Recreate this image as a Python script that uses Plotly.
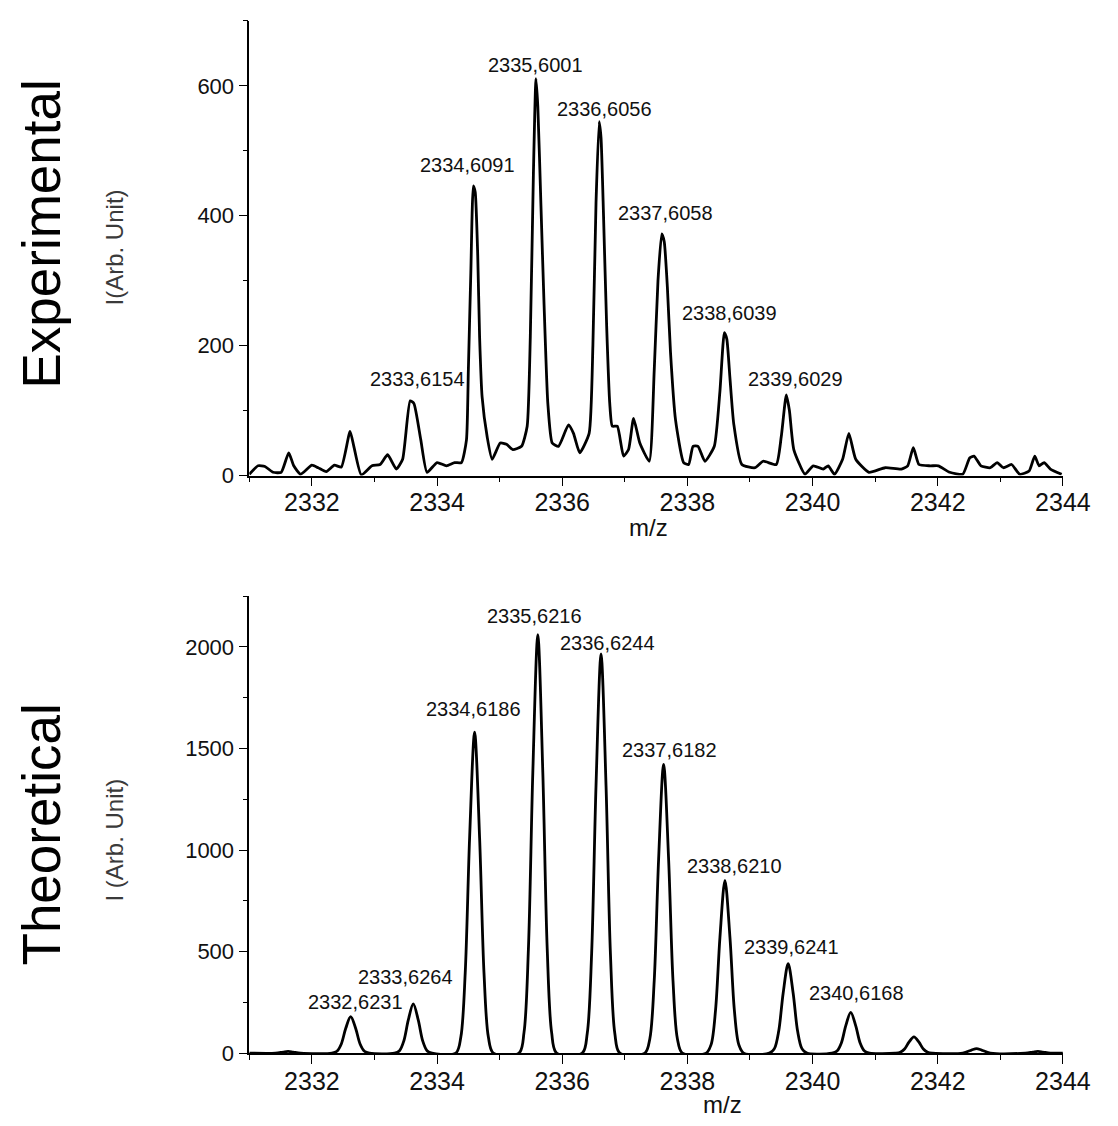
import plotly.graph_objects as go

# ---------------- data ----------------
# Experimental spectrum (m/z, intensity)
exp_mz = [2331.00, 2331.14, 2331.25, 2331.38, 2331.51, 2331.63, 2331.71, 2331.82,
          2332.00, 2332.10, 2332.23, 2332.36, 2332.47, 2332.61, 2332.67, 2332.79,
          2332.96, 2333.09, 2333.21, 2333.35, 2333.45, 2333.57, 2333.63, 2333.74,
          2333.84, 2334.00, 2334.15, 2334.28, 2334.39, 2334.47, 2334.50, 2334.54,
          2334.58, 2334.61, 2334.65, 2334.68, 2334.72, 2334.80, 2334.88, 2335.01,
          2335.11, 2335.21, 2335.35, 2335.44, 2335.49, 2335.54, 2335.58, 2335.61,
          2335.66, 2335.71, 2335.77, 2335.84, 2335.94, 2336.10, 2336.18, 2336.28,
          2336.43, 2336.49, 2336.54, 2336.59, 2336.62, 2336.66, 2336.71, 2336.76,
          2336.80, 2336.88, 2336.98, 2337.06, 2337.14, 2337.24, 2337.39, 2337.47,
          2337.53, 2337.59, 2337.63, 2337.68, 2337.73, 2337.81, 2337.94, 2338.02,
          2338.09, 2338.17, 2338.28, 2338.43, 2338.52, 2338.59, 2338.63, 2338.68,
          2338.74, 2338.87, 2339.08, 2339.21, 2339.42, 2339.50, 2339.58, 2339.63,
          2339.70, 2339.88, 2340.01, 2340.17, 2340.25, 2340.35, 2340.48, 2340.58,
          2340.69, 2340.90, 2341.16, 2341.42, 2341.52, 2341.61, 2341.70, 2341.88,
          2342.01, 2342.19, 2342.40, 2342.51, 2342.58, 2342.69, 2342.84, 2342.95,
          2343.05, 2343.18, 2343.31, 2343.46, 2343.55, 2343.62, 2343.70, 2343.80,
          2343.98]
exp_I = [2, 15, 14, 5, 5, 35, 15, 2,
         16, 12, 6, 16, 13, 68, 45, 1,
         15, 17, 32, 10, 25, 115, 111, 55,
         5, 20, 15, 20, 20, 55, 162, 314,
         446, 436, 339, 213, 121, 60, 25, 50,
         48, 40, 45, 76, 213, 467, 611, 568,
         416, 263, 111, 50, 45, 78, 65, 35,
         65, 200, 420, 545, 520, 400, 230, 110,
         76, 76, 30, 40, 88, 50, 22, 162,
         300, 372, 360, 290, 190, 86, 20, 17,
         45, 45, 22, 45, 130, 220, 210, 150,
         80, 17, 12, 22, 17, 60, 124, 100,
         40, 2, 15, 10, 15, 2, 25, 65,
         25, 5, 12, 10, 15, 43, 17, 15,
         15, 5, 2, 27, 30, 15, 12, 20,
         12, 17, 2, 7, 30, 15, 20, 10,
         2]

# Theoretical isotope pattern (m/z, intensity)
theo_mz = [2331.00,
           2331.42, 2331.54, 2331.62, 2331.70, 2331.82,
           2332.32, 2332.40, 2332.47, 2332.54, 2332.62, 2332.70, 2332.77, 2332.84, 2332.92,
           2333.32, 2333.40, 2333.47, 2333.54, 2333.62, 2333.70, 2333.77, 2333.84, 2333.92,
           2334.30, 2334.38, 2334.45, 2334.52, 2334.60, 2334.68, 2334.75, 2334.82, 2334.90,
           2335.31, 2335.39, 2335.46, 2335.53, 2335.61, 2335.69, 2335.76, 2335.83, 2335.91,
           2336.32, 2336.40, 2336.47, 2336.54, 2336.62, 2336.70, 2336.77, 2336.84, 2336.92,
           2337.32, 2337.40, 2337.47, 2337.54, 2337.62, 2337.70, 2337.77, 2337.84, 2337.92,
           2338.30, 2338.38, 2338.45, 2338.52, 2338.60, 2338.68, 2338.75, 2338.82, 2338.90,
           2339.31, 2339.39, 2339.46, 2339.53, 2339.61, 2339.69, 2339.76, 2339.83, 2339.91,
           2340.31, 2340.39, 2340.46, 2340.53, 2340.61, 2340.69, 2340.76, 2340.83, 2340.91,
           2341.32, 2341.40, 2341.47, 2341.54, 2341.62, 2341.70, 2341.77, 2341.84, 2341.92,
           2342.40, 2342.54, 2342.62, 2342.70, 2342.84,
           2343.40, 2343.52, 2343.60, 2343.68, 2343.80,
           2344.00]
theo_I = [0,
          0, 5, 8, 5, 0,
          0, 9, 45, 121, 180, 121, 45, 9, 0,
          0, 12, 61, 162, 242, 162, 61, 12, 0,
          0, 79, 395, 1059, 1580, 1059, 395, 79, 0,
          0, 103, 515, 1380, 2060, 1380, 515, 103, 0,
          0, 98, 491, 1317, 1965, 1317, 491, 98, 0,
          0, 71, 356, 953, 1422, 953, 356, 71, 0,
          0, 43, 213, 570, 850, 570, 213, 43, 0,
          0, 22, 110, 295, 440, 295, 110, 22, 0,
          0, 10, 50, 134, 200, 134, 50, 10, 0,
          0, 4, 20, 54, 80, 54, 20, 4, 0,
          0, 15, 22, 15, 0,
          0, 5, 8, 5, 0,
          0]

# Peak labels: text, m/z and intensity position of the label
exp_labels = ["2333,6154", "2334,6091", "2335,6001", "2336,6056",
              "2337,6058", "2338,6039", "2339,6029"]
exp_label_mz = [2333.685, 2334.49, 2335.576, 2336.68, 2337.654, 2338.665, 2339.72]
exp_label_I = [148, 478, 632, 564, 404, 250, 148]

theo_labels = ["2332,6231", "2333,6264", "2334,6186", "2335,6216", "2336,6244",
               "2337,6182", "2338,6210", "2339,6241", "2340,6168"]
theo_label_mz = [2332.689, 2333.498, 2334.59, 2335.553, 2336.728,
                 2337.716, 2338.75, 2339.66, 2340.70]
theo_label_I = [251, 377, 1696, 2151, 2021, 1491, 919, 523, 295]

x_ticks = [2332, 2334, 2336, 2338, 2340, 2342, 2344]
exp_y_ticks = [0, 200, 400, 600]
theo_y_ticks = [0, 500, 1000, 1500, 2000]

# ---------------- layout ----------------
W, H = 1118, 1126
FONT = "Liberation Sans, Arial, sans-serif"


def px(x):
    return x / W


def py(y):
    return 1 - y / H


fig = go.Figure()

fig.add_trace(go.Scatter(x=exp_mz, y=exp_I, mode="lines",
                         line=dict(color="black", width=2.8, shape="spline", smoothing=0.5),
                         xaxis="x", yaxis="y", showlegend=False))
fig.add_trace(go.Scatter(x=theo_mz, y=theo_I, mode="lines",
                         line=dict(color="black", width=2.8, shape="spline", smoothing=0.9),
                         xaxis="x2", yaxis="y2", showlegend=False))

axis_common = dict(showline=True, linecolor="black", linewidth=1.6,
                   ticks="outside", tickcolor="black", tickwidth=1.4,
                   showgrid=False, zeroline=False)
minor_x = dict(dtick=1, ticklen=5, ticks="outside", tickcolor="black", tickwidth=1.4)

xdom = [px(247.5), px(1082)]
fig.update_layout(
    width=W, height=H,
    margin=dict(l=0, r=0, t=0, b=0),
    paper_bgcolor="white", plot_bgcolor="white",
    font=dict(family=FONT, color="black"),
    xaxis=dict(domain=xdom, range=[2331, 2344], anchor="y",
               tickvals=x_ticks, ticklen=9, minor=minor_x, ticklabelstandoff=-5,
               tickfont=dict(size=25, family=FONT, color="#111"), **axis_common),
    yaxis=dict(domain=[py(473), py(13)], range=[0, 700], anchor="x",
               tickvals=exp_y_ticks, ticklen=9,
               minor=dict(dtick=100, ticklen=5, ticks="outside", tickcolor="black", tickwidth=1.4),
               tickfont=dict(size=22, family=FONT, color="#111"), **axis_common),
    xaxis2=dict(domain=xdom, range=[2331, 2344], anchor="y2",
                tickvals=x_ticks, ticklen=9, minor=minor_x, ticklabelstandoff=-4,
                tickfont=dict(size=25, family=FONT, color="#111"), **axis_common),
    yaxis2=dict(domain=[py(1057.3), py(595)], range=[0, 2250], anchor="x2",
                tickvals=theo_y_ticks, ticklen=9,
                minor=dict(dtick=250, ticklen=5, ticks="outside", tickcolor="black", tickwidth=1.4),
                tickfont=dict(size=22, family=FONT, color="#111"), **axis_common),
)

annotations = []
for t, xm, yi in zip(exp_labels, exp_label_mz, exp_label_I):
    annotations.append(dict(text=t, x=xm, y=yi, xref="x", yref="y", showarrow=False,
                            xanchor="center", yanchor="middle",
                            font=dict(size=20, family=FONT, color="#111")))
for t, xm, yi in zip(theo_labels, theo_label_mz, theo_label_I):
    annotations.append(dict(text=t, x=xm, y=yi, xref="x2", yref="y2", showarrow=False,
                            xanchor="center", yanchor="middle",
                            font=dict(size=20, family=FONT, color="#111")))

# axis / panel titles
annotations += [
    dict(text="m/z", x=px(657), y=py(526), xref="paper", yref="paper", showarrow=False,
         xanchor="center", yanchor="middle", font=dict(size=24, family=FONT, color="#111")),
    dict(text="m/z", x=px(733), y=py(1109), xref="paper", yref="paper", showarrow=False,
         xanchor="center", yanchor="middle", font=dict(size=24, family=FONT, color="#111")),
    dict(text="I(Arb. Unit)", x=px(109), y=py(242), xref="paper", yref="paper", showarrow=False,
         textangle=-90, xanchor="center", yanchor="middle",
         font=dict(size=24, family=FONT, color="#3a3a3a")),
    dict(text="I (Arb. Unit)", x=px(109), y=py(842), xref="paper", yref="paper", showarrow=False,
         textangle=-90, xanchor="center", yanchor="middle",
         font=dict(size=24, family=FONT, color="#3a3a3a")),
    dict(text="Experimental", x=px(34), y=py(229), xref="paper", yref="paper", showarrow=False,
         textangle=-90, xanchor="center", yanchor="middle",
         font=dict(size=53, family=FONT, color="black")),
    dict(text="Theoretical", x=px(34), y=py(836), xref="paper", yref="paper", showarrow=False,
         textangle=-90, xanchor="center", yanchor="middle",
         font=dict(size=53, family=FONT, color="black")),
]
fig.update_layout(annotations=annotations)

fig.write_html("out.html")
